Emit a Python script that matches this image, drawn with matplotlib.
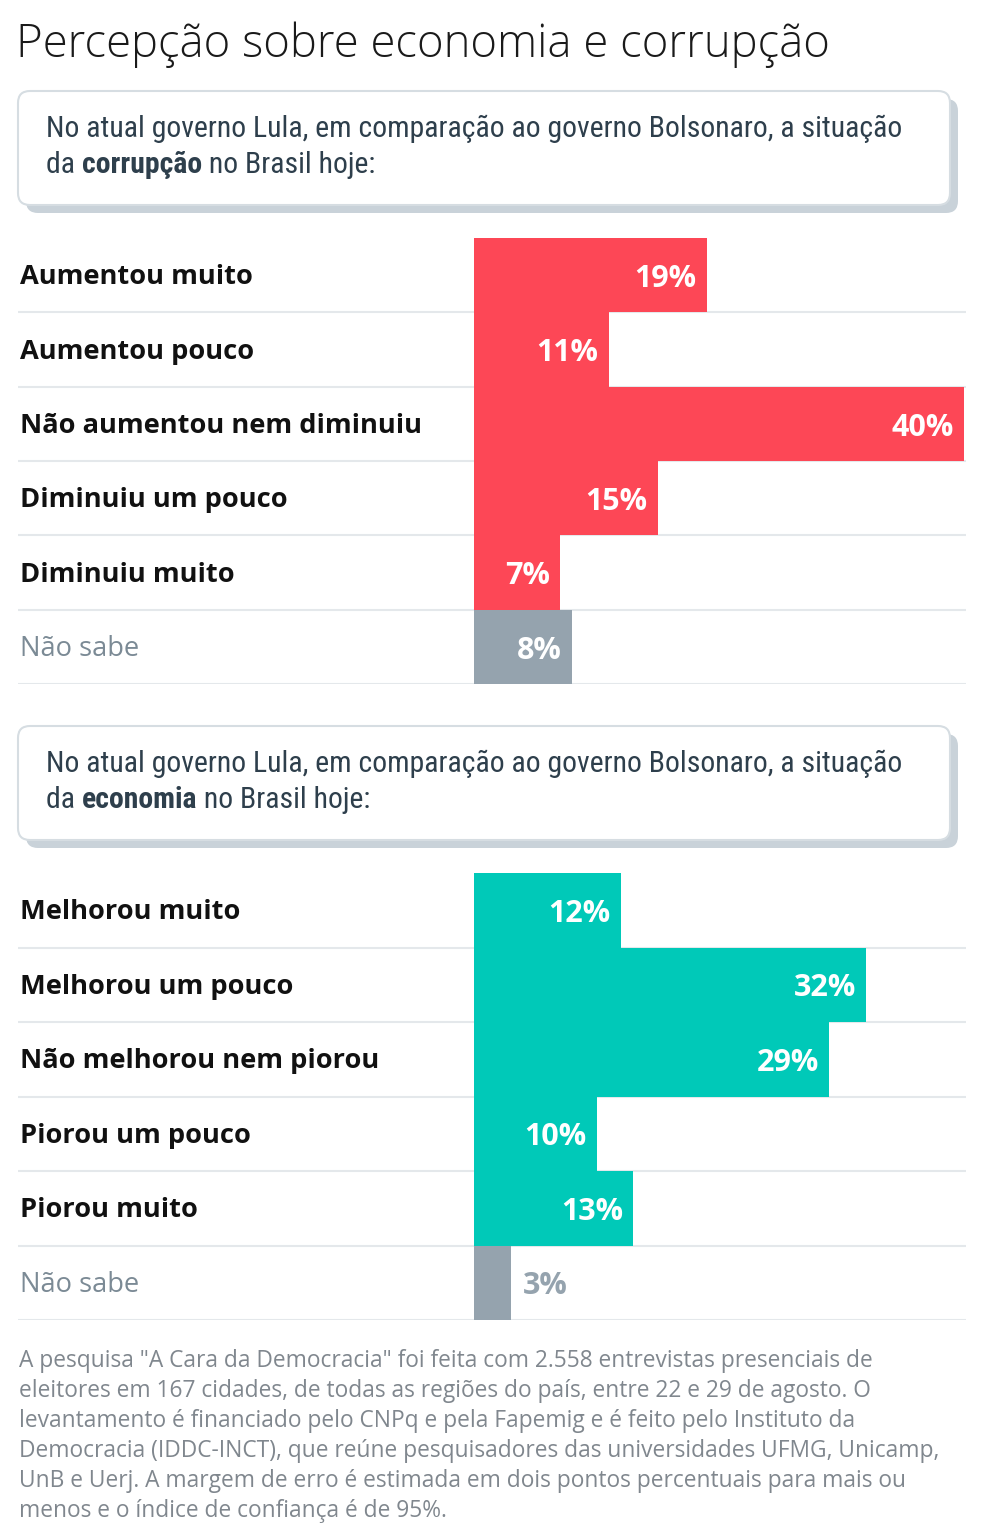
import matplotlib
matplotlib.use("Agg")
import matplotlib.pyplot as plt
from matplotlib.patches import FancyBboxPatch
from matplotlib import font_manager

W, H = 984, 1535

title = "Percepção sobre economia e corrupção"
question_start = "No atual governo Lula, em comparação ao governo Bolsonaro, a situação"
corr_topic = "corrupção"
eco_topic = "economia"

corr_labels = ["Aumentou muito", "Aumentou pouco", "Não aumentou nem diminuiu",
               "Diminuiu um pouco", "Diminuiu muito", "Não sabe"]
corr_values = [19, 11, 40, 15, 7, 8]

eco_labels = ["Melhorou muito", "Melhorou um pouco", "Não melhorou nem piorou",
              "Piorou um pouco", "Piorou muito", "Não sabe"]
eco_values = [12, 32, 29, 10, 13, 3]

footnote = [
    'A pesquisa "A Cara da Democracia" foi feita com 2.558 entrevistas presenciais de',
    "eleitores em 167 cidades, de todas as regiões do país, entre 22 e 29 de agosto. O",
    "levantamento é financiado pelo CNPq e pela Fapemig e é feito pelo Instituto da",
    "Democracia (IDDC-INCT), que reúne pesquisadores das universidades UFMG, Unicamp,",
    "UnB e Uerj. A margem de erro é estimada em dois pontos percentuais para mais ou",
    "menos e o índice de confiança é de 95%.",
]

RED = "#fd4756"
TEAL = "#00c9b8"
GRAY = "#95a3ae"
LINE = "#e4e8eb"
DARK = "#1a1a1a"
BOXTEXT = "#2e3f4c"
NOTE = "#80878e"


def pick(*names):
    avail = {f.name for f in font_manager.fontManager.ttflist}
    for n in names:
        if n in avail:
            return n
    return "DejaVu Sans"


SANS = pick("Open Sans", "Noto Sans", "DejaVu Sans")
NARROW = pick("Roboto Condensed", "Liberation Sans Narrow", "Open Sans Condensed", "Roboto")

fig = plt.figure(figsize=(W / 100, H / 100), dpi=100)
bg = fig.add_axes([0, 0, 1, 1])
bg.set_xlim(0, W)
bg.set_ylim(H, 0)
bg.axis("off")

bg.text(16, 45, title, fontsize=32.8, fontfamily=SANS, fontweight="light",
        color=DARK, va="center", ha="left")


def question_box(top, topic):
    shadow = FancyBboxPatch((26, top + 8), 932, 114, boxstyle="round,pad=0,rounding_size=12",
                            facecolor="#c9d2d9", edgecolor="none", zorder=1)
    box = FancyBboxPatch((18, top), 932, 114, boxstyle="round,pad=0,rounding_size=12",
                         facecolor="white", edgecolor="#d6dde2", lw=1.5, zorder=2)
    bg.add_patch(shadow)
    bg.add_patch(box)
    kw = dict(fontsize=21.4, fontfamily=NARROW, color=BOXTEXT, va="center", ha="left", zorder=3)
    bg.text(46, top + 38, question_start, **kw)
    renderer = fig.canvas.get_renderer()
    x = 46
    for part, weight in [("da ", "normal"), (topic, "bold"), (" no Brasil hoje:", "normal")]:
        t = bg.text(x, top + 74, part, fontweight=weight, **kw)
        x += t.get_window_extent(renderer).width


def bar_panel(top, bottom, labels, values, color):
    ax = fig.add_axes([18 / W, 1 - bottom / H, (966 - 18) / W, (bottom - top) / H])
    px = 12.25  # pixels per percentage point
    ax.set_xlim(-(474 - 18) / px, (966 - 474) / px)
    n = len(values)
    ax.set_ylim(n - 0.5, -0.5)
    ax.axis("off")
    ax.patch.set_alpha(0)
    for i in range(1, n + 1):
        ax.axhline(i - 0.5, color=LINE, lw=1.5, zorder=1)
    colors = [color] * (n - 1) + [GRAY]
    ax.barh(range(n), values, height=1.0, color=colors, zorder=2)
    for i, (lab, val) in enumerate(zip(labels, values)):
        last = i == n - 1
        ax.text(-(474 - 20) / px, i + 0.03, lab, fontsize=19.6, fontfamily=SANS,
                fontweight="normal" if last else "bold",
                color="#7b8a95" if last else "#111111", va="center", ha="left")
        if val >= 5:
            ax.text(val - 10 / px, i + 0.05, f"{val}%", fontsize=22, fontfamily=SANS,
                    fontweight="bold", color="white", va="center", ha="right", zorder=3)
        else:
            ax.text(val + 12 / px, i + 0.05, f"{val}%", fontsize=22, fontfamily=SANS,
                    fontweight="bold", color=GRAY, va="center", ha="left", zorder=3)


question_box(91, corr_topic)
bar_panel(238, 684, corr_labels, corr_values, RED)
question_box(726, eco_topic)
bar_panel(873, 1320, eco_labels, eco_values, TEAL)

for i, line in enumerate(footnote):
    bg.text(19, 1361 + 30 * i, line, fontsize=16.4, fontfamily=SANS, color=NOTE,
            va="center", ha="left")

fig.savefig("out.png", dpi=100)
